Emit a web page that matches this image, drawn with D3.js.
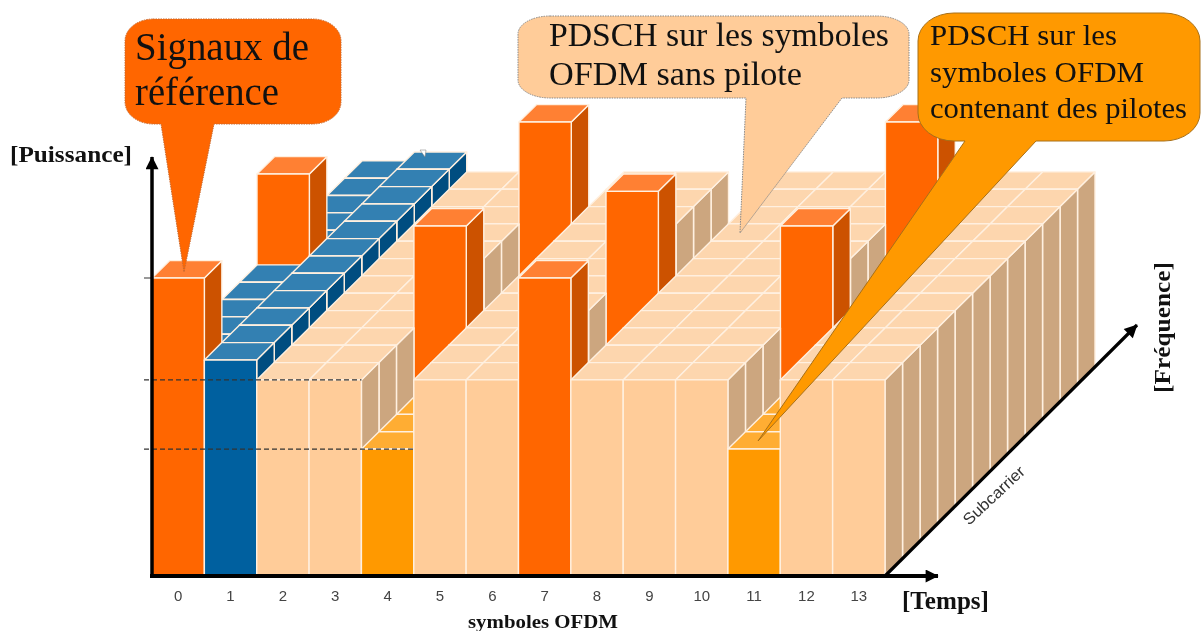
<!DOCTYPE html>
<html><head><meta charset="utf-8">
<script src="https://cdn.jsdelivr.net/npm/d3@7/dist/d3.min.js"></script>
<style>html,body{margin:0;padding:0;background:#fff;overflow:hidden}svg{display:block;filter:blur(0.35px)}</style>
</head><body><svg id="c" width="1201" height="631"></svg>
<script>
// ---- data ----
const symbols = [0,1,2,3,4,5,6,7,8,9,10,11,12,13];
const subcarriers = [0,1,2,3,4,5,6,7,8,9,10,11];
const referenceCells = ["0:0","0:6","4:3","4:9","7:0","7:5","11:3","11:9"];
const pilotSymbols = [4,7,11];
const controlSymbols = [0,1];
const levelReference = 100, levelControlFront = 72.5, levelControlBack = 69.5, levelData = 65.8, levelPilotData = 42.6;
const guideLevels = [levelReference, levelData, levelPilotData];

const palette = {
  ref:{front:"#ff6600",top:"#ff8033",side:"#cc5200"},
  ctl:{front:"#00609f",top:"#3380b2",side:"#004d80"},
  pil:{front:"#ff9900",top:"#ffad33",side:"#cc7a00"},
  dat:{front:"#ffcc99",top:"#fdd6ae",side:"#cca67f"}
};

const svg = d3.select("#c");
const x = d3.scaleLinear().domain([0,14]).range([152,885]);
const band = d3.scaleBand().domain(symbols).range([152,885]);
const y = d3.scaleLinear().domain([0,100]).range([576,278]);
const depthX = d3.scaleLinear().domain([0,12]).range([0,210]);
const depthY = d3.scaleLinear().domain([0,12]).range([0,-208]);

function cellKind(s,r){
  if(referenceCells.includes(s+":"+r)) return {k:"ref",v:levelReference};
  if(s===1) return {k:"ctl",v:levelControlFront};
  if(s===0) return {k:"ctl",v:levelControlBack};
  if(pilotSymbols.includes(s)) return {k:"pil",v:levelPilotData};
  return {k:"dat",v:levelData};
}
const cells=[];
subcarriers.slice().reverse().forEach(r=>symbols.forEach(s=>cells.push({s,r,...cellKind(s,r)})));

const P=(s,r,v)=>[x(s)+depthX(r), y(v)+depthY(r)];
const poly=a=>a.map(p=>p.join(",")).join(" ");
const g=svg.append("g");
const box=g.selectAll("g.cell").data(cells).join("g").attr("class","cell")
  .attr("stroke","#fff0e0").attr("stroke-width",1.4).attr("stroke-linejoin","round");
box.append("polygon").attr("fill",d=>palette[d.k].side)
  .attr("points",d=>poly([P(d.s+1,d.r,0),P(d.s+1,d.r+1,0),P(d.s+1,d.r+1,d.v),P(d.s+1,d.r,d.v)]));
box.append("polygon").attr("fill",d=>palette[d.k].top)
  .attr("points",d=>poly([P(d.s,d.r,d.v),P(d.s+1,d.r,d.v),P(d.s+1,d.r+1,d.v),P(d.s,d.r+1,d.v)]));
box.append("polygon").attr("fill",d=>palette[d.k].front)
  .attr("points",d=>poly([P(d.s,d.r,0),P(d.s+1,d.r,0),P(d.s+1,d.r,d.v),P(d.s,d.r,d.v)]));

// guides
const guideEnds=[x(0),x(4),x(5)];
guideLevels.forEach((v,i)=>{
  const l=svg.append("line").attr("x1",144).attr("x2",i===0?152:guideEnds[i])
    .attr("y1",y(v)).attr("y2",y(v)).attr("stroke",i===0?"#555":"#333").attr("stroke-width",1.2);
  if(i>0) l.attr("stroke-dasharray","5 3");
});

// axes
const defs=svg.append("defs");
defs.append("marker").attr("id","ah").attr("viewBox","0 0 10 10").attr("refX",9.5).attr("refY",5)
  .attr("markerUnits","userSpaceOnUse").attr("markerWidth",14).attr("markerHeight",13).attr("orient","auto")
  .append("path").attr("d","M0,0L10,5L0,10Z").attr("fill","#000");
const axisLine=(a,b,c,w)=>svg.append("line").attr("x1",a).attr("y1",b).attr("x2",c[0]).attr("y2",c[1])
  .attr("stroke","#000").attr("stroke-width",w).attr("marker-end","url(#ah)");
axisLine(152,578,[152,157],3.5);
axisLine(150,576,[938,576],4);
axisLine(885,576,[1137,325],3.2);

const axis=d3.axisBottom(band).tickSize(0).tickPadding(0);
const ag=svg.append("g").attr("transform","translate(0,590)").call(axis);
ag.select(".domain").remove();
ag.selectAll("text").attr("font-family","'Liberation Sans'").attr("font-size",15).attr("fill","#444");

// callouts
function callout(l,t,r,b,rx,ry,tail,tip,fill,stroke,dash){
  const d=`M${l+rx},${t}H${r-rx}A${rx},${ry} 0 0 1 ${r},${t+ry}V${b-ry}A${rx},${ry} 0 0 1 ${r-rx},${b}`
    +`H${tail[1]}L${tip[0]},${tip[1]}L${tail[0]},${b}H${l+rx}A${rx},${ry} 0 0 1 ${l},${b-ry}V${t+ry}A${rx},${ry} 0 0 1 ${l+rx},${t}Z`;
  svg.append("path").attr("d",d).attr("fill",fill).attr("stroke",stroke).attr("stroke-width",1).attr("stroke-dasharray",dash);
}
// small pointer remnant on the blue stack
svg.append("path").attr("d","M420,150L426,150L425,157Z").attr("fill","#fff").attr("stroke","#777").attr("stroke-width",.5);

callout(125,19,341,124,28,22,[161,214],[184,272],"#ff6600","#c86a30","1.5 1");
callout(518,16,909,98,32,18,[746,842],[740,233],"#ffcc99","#888","1.5 1");
callout(918,13,1200,141,36,28,[965,1036],[758,441],"#ff9900","#a87018","none");

const serif="'Liberation Serif'";
function T(s,px,py,size,opt={}){
  const t=svg.append("text").text(s).attr("x",px).attr("y",py).attr("font-family",opt.fam||serif)
    .attr("font-size",size).attr("fill",opt.fill||"#111");
  if(opt.bold) t.attr("font-weight","bold");
  if(opt.rot!=null) t.attr("transform",`rotate(${opt.rot} ${px} ${py})`);
  if(opt.w) t.attr("textLength",opt.w).attr("lengthAdjust","spacingAndGlyphs");
  return t;
}
T("Signaux de",135,60,40,{w:174});
T("référence",135,105,40,{w:144});
T("PDSCH sur les symboles",549,46,33,{w:340});
T("OFDM sans pilote",549,85,33,{w:253});
T("PDSCH sur les",930,45,29,{w:187});
T("symboles OFDM",930,82,29,{w:214});
T("contenant des pilotes",930,118,29,{w:257});
T("[Puissance]",10,162,23,{bold:true,w:122});
T("[Temps]",902,609,26,{bold:true,w:87});
T("[Fréquence]",1170,393,24,{bold:true,rot:-90,w:131});
T("symboles OFDM",468,628,18,{bold:true,w:150});
T("Subcarrier",969,526,16,{fam:"'Liberation Sans'",rot:-43,fill:"#333",w:78});
</script></body></html>
